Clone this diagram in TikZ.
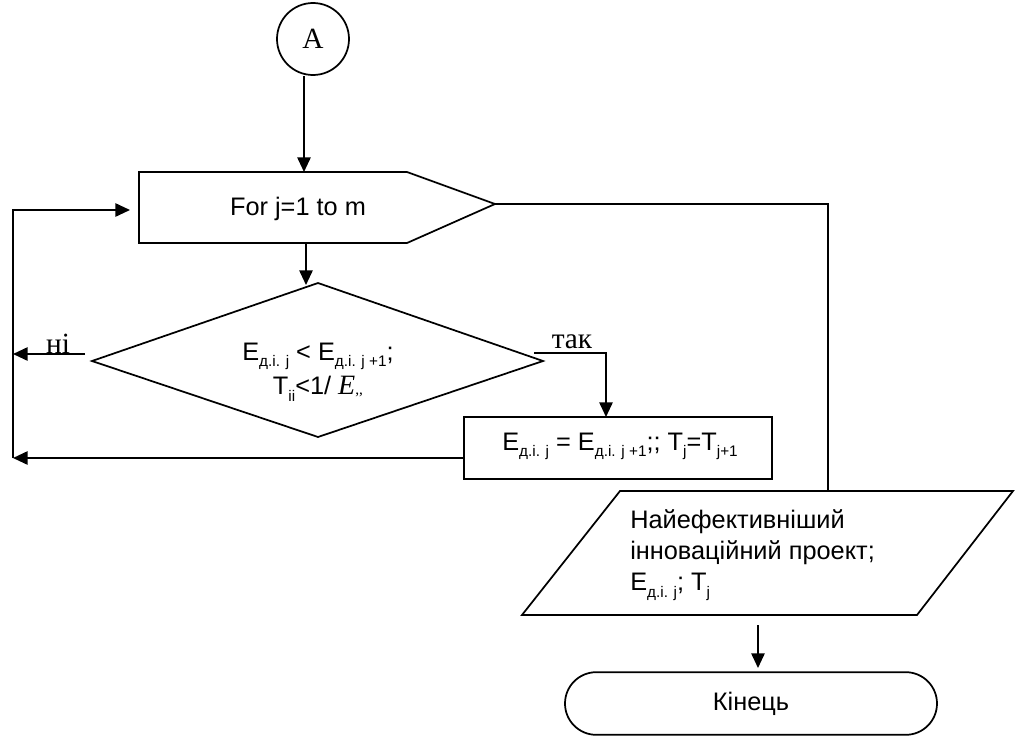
\documentclass[tikz,border=0pt]{standalone}
\usepackage{fontspec}
\setmainfont{Liberation Sans}
\newfontfamily\serifface{Liberation Serif}
\usetikzlibrary{arrows.meta,shapes.misc}
% lowered small index, as in E_{д.і. j}
\newcommand{\lowidx}[1]{\raisebox{-0.5ex}{\fontsize{11.5}{11.5}\selectfont #1}}
\begin{document}
\begin{tikzpicture}[x=0.75pt,y=-0.75pt,
  line/.style={line width=1.3pt},
  conn/.style={line,-{Triangle[length=11pt,width=10pt]}},
  outline/.style={line,draw,line join=miter},
  txt/.style={font=\fontsize{19}{23.6}\selectfont,inner sep=0pt},
  lbl/.style={font=\serifface\fontsize{22}{22}\selectfont,inner sep=0pt}]
\fill[white] (0,0) rectangle (1015,736);
\useasboundingbox (0,0) rectangle (1015,736);

% entry connector
\node[circle,draw,line,minimum size=54pt,inner sep=0pt,
      font=\serifface\fontsize{22}{22}\selectfont] (A) at (313,39) {A};

% loop header
\draw[outline] (139,172) -- (407,172) -- (495,204) -- (407,243) -- (139,243) -- cycle;
\node[txt,anchor=base] (for) at (298,215) {For j=1 to m};
\coordinate (forN) at (304,172);
\coordinate (forS) at (306,243);
\coordinate (forW) at (130,210);
\coordinate (forE) at (495,204);

% decision
\draw[outline] (92,361) -- (318,283) -- (543,361) -- (318,437) -- cycle;
\node[txt,align=center] (cond) at (318,372)
  {E\lowidx{д.і. j} < E\lowidx{д.і. j +1};\\[2pt]
   T\lowidx{ii}<1/ {\serifface\itshape\fontsize{21}{21}\selectfont E}{\serifface\fontsize{11.5}{11.5}\selectfont,,}};
\coordinate (condN) at (306,285);
\coordinate (noOut) at (85,354);
\coordinate (yesOut) at (534,353);
\node[lbl] (no) at (58,344) {ні};
\node[lbl] (yes) at (572,342) {так};

% assignment
\draw[outline] (464,417) rectangle (772,479);
\node[txt,anchor=base] (assign) at (620,450)
  {E\lowidx{д.і. j} = E\lowidx{д.і. j +1};; T\lowidx{j}=T\lowidx{j+1}};
\coordinate (procN) at (606,417);
\coordinate (procW) at (464,458);

% loop-back rail
\coordinate (railNo) at (13,354);
\coordinate (railB) at (13,458);

% output
\draw[outline] (620,491) -- (1013,491) -- (917,615) -- (522,615) -- cycle;
\node[txt,align=left,anchor=west] (result) at (630,555)
  {Найефективніший\\ інноваційний проект;\\ E\lowidx{д.і. j}; T\lowidx{j}};
\coordinate (outN) at (828,491);
\coordinate (outS) at (758,625);

% terminator
\node[rounded rectangle,draw,line,minimum width=279pt,minimum height=47pt,
      inner sep=0pt,txt] (stop) at (751,703.5) {Кінець};
\coordinate (stopN) at (758,668);

% connectors
\draw[conn] (A.south -| forN) -- (forN);
\draw[conn] (forS) -- (condN);
\draw[conn] (noOut) -- (railNo);
\draw[conn] (yesOut) -| (procN);
\draw[conn] (procW) -- (railB);
\draw[conn] (railB) |- (forW);
\draw[line] (forE) -- (forE -| outN) -- (outN);
\draw[conn] (outS) -- (stopN);
\end{tikzpicture}
\end{document}
